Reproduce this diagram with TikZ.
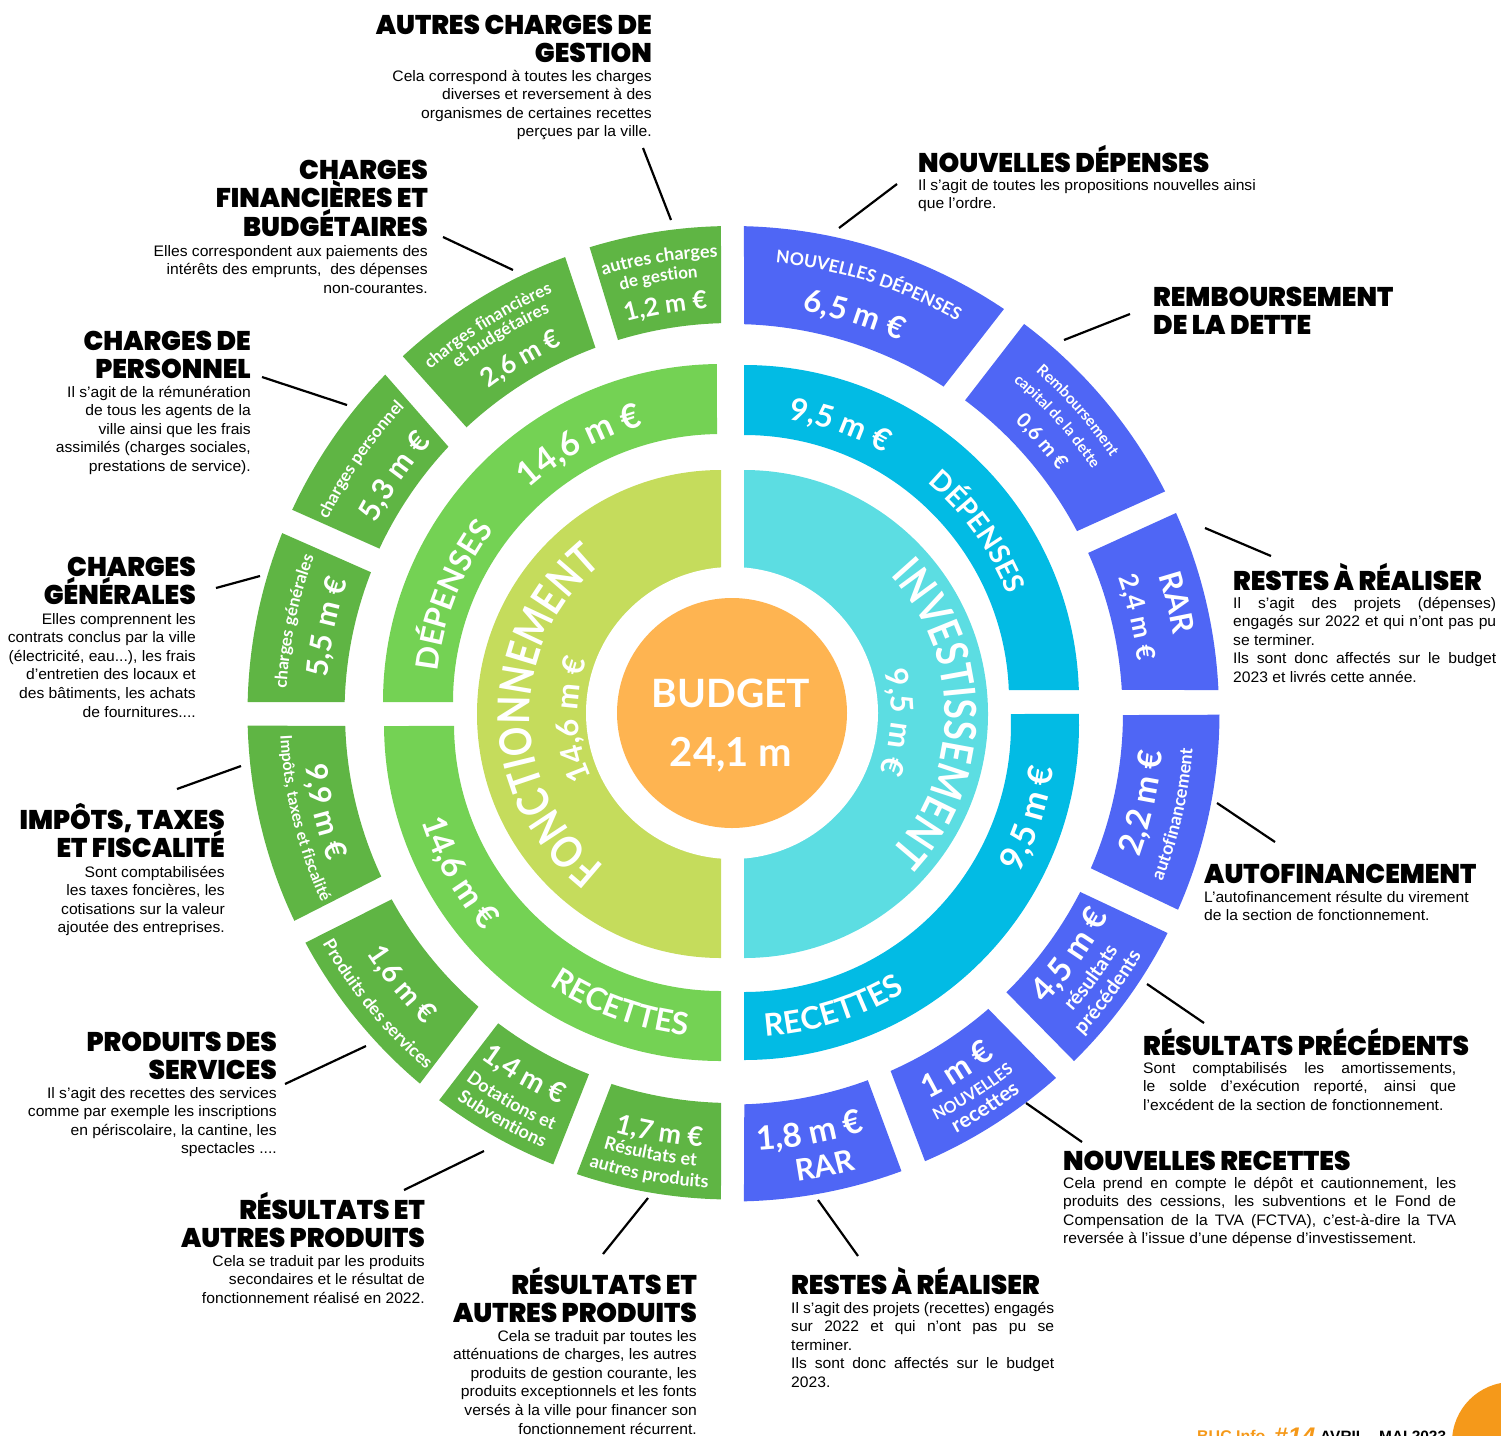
\documentclass[tikz,border=0pt]{standalone}
\usepackage{fontspec}
\usetikzlibrary{decorations.text}
\setmainfont[FakeStretch=1.03]{Liberation Sans}
\newfontfamily\headfam[FakeStretch=0.975]{Poppins Black}
\newfontfamily\ringfam[BoldFont=*]{Lato Bold}
\newfontfamily\condfam[FakeStretch=0.83]{Lato Bold}
\definecolor{orangeC}{HTML}{FEB451}
\definecolor{cornerC}{HTML}{F5991A}
\definecolor{limeC}{HTML}{C5DC5C}
\definecolor{aquaC}{HTML}{5CDDE2}
\definecolor{midgreen}{HTML}{74D254}
\definecolor{outgreen}{HTML}{5FB544}
\definecolor{midcyan}{HTML}{02BBE4}
\definecolor{outblue}{HTML}{4F66F5}
\newcommand\rf[1]{\fontsize{#1}{#1}\selectfont\ringfam\color{white}}
\newcommand\cf[1]{\fontsize{#1}{#1}\selectfont\condfam\color{white}}
\newcommand\bodyf{\fontsize{15.2}{18.65}\selectfont}
\newcommand\headf{\fontsize{27}{28.6}\selectfont\headfam}
\newcommand\rb[1]{\begin{tabular}[t]{@{}r@{}}#1\end{tabular}}
\newcommand\lb[1]{\begin{tabular}[t]{@{}l@{}}#1\end{tabular}}
\newcommand\hl[1]{\smash{#1}}
\newcommand\jl[2]{\makebox[#1pt][s]{#2}}
% ring segment: cx cy colour A1 A2 (outer) B1 B2 (inner) R r  -- math angles
\newcommand\seg[9]{\fill[#3,shift={(#1,#2)}]
  ({0-(#4)}:#8) arc[start angle={0-(#4)},end angle={0-(#5)},radius=#8]
  -- ({0-(#7)}:#9) arc[start angle={0-(#7)},end angle={0-(#6)},radius=#9] -- cycle;}
% text on arc: cx cy r mid dir size text  (dir=1 clockwise, -1 counter)
\newcommand\rt[7]{\path[shift={(#1,#2)},decorate,decoration={text along path,text align=center,
   text={|\rf{#6}|#7}}]
  ({0-(#4+#5*75)}:#3) arc[start angle={0-(#4+#5*75)},end angle={0-(#4-#5*75)},radius=#3];}
\newcommand\ct[7]{\path[shift={(#1,#2)},decorate,decoration={text along path,text align=center,
   text={|\cf{#6}|#7}}]
  ({0-(#4+#5*75)}:#3) arc[start angle={0-(#4+#5*75)},end angle={0-(#4-#5*75)},radius=#3];}
\newcommand\ot[5]{\rt{732}{713}{#1}{#2}{#3}{#4}{#5}}
\tikzset{
  headtxt/.style={inner sep=0,font=\headf,text=black},
  bodytxt/.style={inner sep=0,font=\bodyf,text=black},
  leader/.style={draw=black,line width=2.2pt},
}
\begin{document}
\begin{tikzpicture}[x=1pt,y=-1pt]
\useasboundingbox (0,0) rectangle (1501,1435);
\clip (0,0) rectangle (1501,1435);
% inner half discs
\fill[limeC] (721,470) arc[start angle=-90,end angle=-270,radius=244] -- cycle;
\fill[aquaC] (744,470) arc[start angle=-90,end angle=90,radius=244] -- cycle;
\fill[white] (732,713) circle[radius=146];
\fill[orangeC] (732,713) circle[radius=115];
% middle ring
\seg{721}{702}{midgreen}{90.7}{180}{90.85}{180}{338}{268}
\seg{721}{724}{midgreen}{180.35}{270}{180.4}{270}{337}{267}
\seg{744}{700}{midcyan}{90}{1.7}{90}{2.16}{335}{265}
\seg{744}{725}{midcyan}{1.9}{-90}{2.36}{-90}{335}{267}
% outer ring
\seg{732}{713}{outgreen}{91.3}{107}{91.6}{107}{487}{390}
\seg{732}{713}{outgreen}{110.1}{132.7}{110.5}{132.9}{485.5}{390}
\seg{732}{713}{outgreen}{135.7}{155.2}{136.8}{155}{484.5}{389}
\seg{732}{713}{outgreen}{158.2}{178.7}{158.7}{178.4}{484.5}{387.5}
\seg{732}{713}{outgreen}{181.5}{205.4}{181.9}{205}{484.5}{387}
\seg{732}{713}{outgreen}{208.3}{229.9}{208.7}{229.2}{484.5}{388}
\seg{732}{713}{outgreen}{232.9}{248.4}{233}{248.4}{485.5}{388.5}
\seg{732}{713}{outgreen}{251.4}{268.7}{252}{268.4}{486.5}{390}
\seg{732}{713}{outblue}{88.6}{56.05}{88.2}{57.05}{487}{389}
\seg{732}{713}{outblue}{53.1}{27.1}{53.3}{27.8}{486.5}{390}
\seg{732}{713}{outblue}{24.25}{2.7}{24.2}{3.4}{487}{390.5}
\seg{732}{713}{outblue}{-0.2}{-23.8}{-0.3}{-23.4}{487.5}{391}
\seg{732}{713}{outblue}{-26.8}{-45.5}{-27.2}{-45.5}{488}{391.5}
\seg{732}{713}{outblue}{-48.4}{-66.7}{-49.1}{-66.1}{488}{391.5}
\seg{732}{713}{outblue}{-69.7}{-88.6}{-69.7}{-88.2}{488.5}{391.5}
% centre
\node[inner sep=0,font=\rf{39}] (budget) at (731,693) {BUDGET};
\node[inner sep=0,font=\rf{40}] (total) at (731,755) {24,1 m};
% inner ring text
\ct{721}{714}{191}{180.5}{1}{44}{FONCTIONNEMENT}
\rt{732}{713}{154}{182.4}{1}{31}{14,6 m €}
\ct{744}{714}{201}{0}{1}{44}{INVESTISSEMENT}
\rt{744}{714}{147}{-3}{1}{31}{9,5 m €}
% middle ring text
\rt{721}{702}{287}{118.8}{1}{34}{14,6 m €}
\rt{721}{702}{285}{158.3}{1}{31}{DÉPENSES}
\rt{721}{724}{315}{209.6}{-1}{33}{14,6 m €}
\rt{721}{724}{313}{250.3}{-1}{31}{RECETTES}
\rt{744}{700}{284}{70.7}{1}{31}{9,5 m €}
\rt{744}{700}{284}{35.8}{1}{28}{DÉPENSES}
\rt{744}{725}{313}{-18.1}{-1}{34}{9,5 m €}
\rt{744}{725}{312}{-72.4}{-1}{31}{RECETTES}
% outer ring text
\ot{456}{99.1}{1}{18}{autres charges}
\ot{437}{99.6}{1}{17}{de gestion}
\ot{405}{99.3}{1}{25}{1,2 m €}
\ot{457}{122.2}{1}{17}{charges financières}
\ot{440}{121.5}{1}{17}{et budgétaires}
\ot{405}{120.8}{1}{26}{2,6 m €}
\ot{448}{145.7}{1}{17}{charges personnel}
\ot{404}{145}{1}{30}{5,3 m €}
\ot{446}{168.2}{1}{17}{charges générales}
\ot{406}{168}{1}{30}{5,5 m €}
\ot{452}{193.8}{-1}{16}{Impôts, taxes et fiscalité}
\ot{430}{193.6}{-1}{30}{9,9 m €}
\ot{470}{219.4}{-1}{17.5}{Produits des services}
\ot{438}{219.4}{-1}{28}{1,6 m €}
\ot{454}{240.4}{-1}{18}{Dotations et}
\ot{474}{240.5}{-1}{18}{Subventions}
\ot{427}{240.1}{-1}{28}{1,4 m €}
\ot{454}{259.5}{-1}{18}{Résultats et}
\ot{475}{259.8}{-1}{18}{autres produits}
\ot{435}{260.2}{-1}{27}{1,7 m €}
\ot{452}{72.3}{1}{17.5}{NOUVELLES DÉPENSES}
\ot{408}{72.9}{1}{31}{6,5 m €}
\ot{457}{41.2}{1}{15.5}{Remboursement}
\ot{435}{41.9}{1}{15}{capital de la dette}
\ot{406}{41.2}{1}{20}{0,6 m €}
\ot{448}{13.9}{1}{31}{RAR}
\ot{409}{13.3}{1}{26}{2,4 m €}
\ot{462}{-12.9}{-1}{18}{autofinancement}
\ot{432}{-12.3}{-1}{33}{2,2 m €}
\ot{428}{-35.6}{-1}{33}{4,5 m €}
\ot{453}{-36.4}{-1}{20}{résultats}
\ot{476}{-36.6}{-1}{20}{précédents}
\ot{433}{-57.8}{-1}{32}{1 m €}
\ot{456}{-57.6}{-1}{16}{NOUVELLES}
\ot{476}{-57.3}{-1}{21}{recettes}
\ot{438}{-79.5}{-1}{33}{1,8 m €}
\ot{473}{-78.4}{-1}{30}{RAR}
% labels
\node[headtxt,anchor=base east] (h1) at (652,34) {\rb{\hl{AUTRES CHARGES DE}\\\hl{GESTION}}};
\node[bodytxt,anchor=base east] (b1) at (652,81) {\rb{Cela correspond à toutes les charges\\diverses et reversement à des\\organismes de certaines recettes\\perçues par la ville.}};
\node[headtxt,anchor=base east] (h2) at (428,179) {\rb{\hl{CHARGES}\\\hl{FINANCIÈRES ET}\\\hl{BUDGÉTAIRES}}};
\node[bodytxt,anchor=base east] (b2) at (428,256) {\rb{Elles correspondent aux paiements des\\intérêts des emprunts,\ \ des dépenses\\non-courantes.}};
\node[headtxt,anchor=base east] (h3) at (251,350) {\rb{\hl{CHARGES DE}\\\hl{PERSONNEL}}};
\node[bodytxt,anchor=base east] (b3) at (251,397) {\rb{Il s’agit de la rémunération\\de tous les agents de la\\ville ainsi que les frais\\assimilés (charges sociales,\\prestations de service).}};
\node[headtxt,anchor=base east] (h4) at (196,576) {\rb{\hl{CHARGES}\\\hl{GÉNÉRALES}}};
\node[bodytxt,anchor=base east] (b4) at (196,624) {\rb{Elles comprennent les\\contrats conclus par la ville\\(électricité, eau...), les frais\\d’entretien des locaux et\\des bâtiments, les achats\\de fournitures....}};
\node[headtxt,anchor=base east] (h5) at (225,829) {\rb{\hl{IMPÔTS, TAXES}\\\hl{ET FISCALITÉ}}};
\node[bodytxt,anchor=base east] (b5) at (225,877) {\rb{Sont comptabilisées\\les taxes foncières, les\\cotisations sur la valeur\\ajoutée des entreprises.}};
\node[headtxt,anchor=base east] (h6) at (277,1051) {\rb{\hl{PRODUITS DES}\\\hl{SERVICES}}};
\node[bodytxt,anchor=base east] (b6) at (277,1098) {\rb{Il s’agit des recettes des services\\comme par exemple les inscriptions\\en périscolaire, la cantine, les\\spectacles ....}};
\node[headtxt,anchor=base east] (h7) at (425,1219) {\rb{\hl{RÉSULTATS ET}\\\hl{AUTRES PRODUITS}}};
\node[bodytxt,anchor=base east] (b7) at (425,1266) {\rb{Cela se traduit par les produits\\secondaires et le résultat de\\fonctionnement réalisé en 2022.}};
\node[headtxt,anchor=base east] (h8) at (697,1294) {\rb{\hl{RÉSULTATS ET}\\\hl{AUTRES PRODUITS}}};
\node[bodytxt,anchor=base east] (b8) at (697,1341) {\rb{Cela se traduit par toutes les\\atténuations de charges, les autres\\produits de gestion courante, les\\produits exceptionnels et les fonts\\versés à la ville pour financer son\\fonctionnement récurrent.}};
\node[headtxt,anchor=base west] (h9) at (791,1294) {\lb{\hl{RESTES À RÉALISER}}};
\node[bodytxt,anchor=base west] (b9) at (791,1313) {\lb{\jl{263}{Il s’agit des projets (recettes) engagés}\\\jl{263}{sur 2022 et qui n’ont pas pu se}\\terminer.\\\jl{263}{Ils sont donc affectés sur le budget}\\2023.}};
\node[headtxt,anchor=base west] (h10) at (1063,1170) {\lb{\hl{NOUVELLES RECETTES}}};
\node[bodytxt,anchor=base west] (b10) at (1063,1188) {\lb{\jl{393}{Cela prend en compte le dépôt et cautionnement, les}\\\jl{393}{produits des cessions, les subventions et le Fond de}\\\jl{393}{Compensation de la TVA (FCTVA), c’est-à-dire la TVA}\\reversée à l’issue d’une dépense d’investissement.}};
\node[headtxt,anchor=base west] (h11) at (1143,1055) {\lb{\hl{RÉSULTATS PRÉCÉDENTS}}};
\node[bodytxt,anchor=base west] (b11) at (1143,1073) {\lb{\jl{313}{Sont comptabilisés les amortissements,}\\\jl{313}{le solde d’exécution reporté, ainsi que}\\l’excédent de la section de fonctionnement.}};
\node[headtxt,anchor=base west] (h12) at (1204,883) {\lb{\hl{AUTOFINANCEMENT}}};
\node[bodytxt,anchor=base west] (b12) at (1204,902) {\lb{L’autofinancement résulte du virement\\de la section de fonctionnement.}};
\node[headtxt,anchor=base west] (h13) at (1233,590) {\lb{\hl{RESTES À RÉALISER}}};
\node[bodytxt,anchor=base west] (b13) at (1233,608) {\lb{\jl{263}{Il s’agit des projets (dépenses)}\\\jl{263}{engagés sur 2022 et qui n’ont pas pu}\\se terminer.\\\jl{263}{Ils sont donc affectés sur le budget}\\2023 et livrés cette année.}};
\node[headtxt,anchor=base west] (h14) at (1153,306) {\lb{\hl{REMBOURSEMENT}\\\hl{DE LA DETTE}}};
\node[headtxt,anchor=base west] (h15) at (918,172) {\lb{\hl{NOUVELLES DÉPENSES}}};
\node[bodytxt,anchor=base west] (b15) at (918,190) {\lb{Il s’agit de toutes les propositions nouvelles ainsi\\que l’ordre.}};
% leaders
\foreach \n/\xa/\ya/\xb/\yb in {1/643/148/671/220,2/443/237/513/270,3/262/377/347/405,4/216/588/260/576,5/177/789/241/766,6/285/1084/366/1046,7/404/1190/484/1151,8/603/1254/648/1198,9/858/1256/818/1200,10/1082/1142/1026/1103,11/1204/1023/1147/984,12/1275/842/1217/803,13/1271/556/1205/528,14/1130/314/1064/340,15/897/184/839/228}{
  \coordinate (la\n) at (\xa,\ya);
  \coordinate (lb\n) at (\xb,\yb);
  \draw[leader] (la\n) -- (lb\n);
}
% footer
\fill[cornerC] (1512,1442) circle[radius=60];
\node[inner sep=0,anchor=base west,text=cornerC,font=\fontsize{15.5}{15.5}\selectfont\bfseries] (fa) at (1197,1441) {BUC Info};
\node[inner sep=0,anchor=base west,text=cornerC,font=\fontsize{24}{24}\selectfont\bfseries\itshape] (fb) at (1274,1444) {\#14};
\node[inner sep=0,anchor=base west,text=black,font=\fontsize{15}{15}\selectfont\bfseries] (fc) at (1320,1441) {AVRIL - MAI 2023};
\end{tikzpicture}
\end{document}
